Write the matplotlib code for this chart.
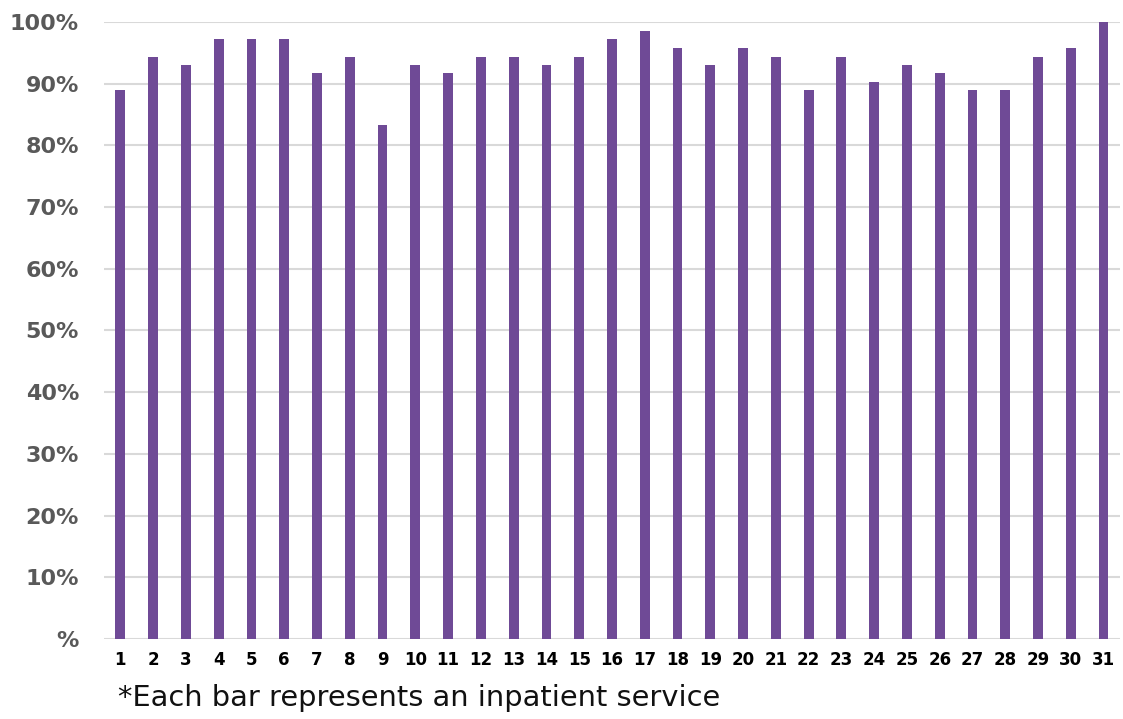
import numpy as np
import matplotlib.pyplot as plt

# share of patients per inpatient service (%)
services = list(range(1, 32))
values = [88.9, 94.4, 93.1, 97.2, 97.2, 97.2, 91.7, 94.4, 83.3, 93.1,
          91.7, 94.4, 94.4, 93.1, 94.4, 97.2, 98.6, 95.8, 93.1, 95.8,
          94.4, 88.9, 94.4, 90.3, 93.1, 91.7, 88.9, 88.9, 94.4, 95.8, 100.0]
yticks = list(range(0, 101, 10))
ylabels = ['%'] + ['%d%%' % t for t in yticks[1:]]

fig = plt.figure(figsize=(11.23, 7.19), dpi=100)
ax = fig.add_axes([0.0926, 0.1113, 0.9047, 0.8581])

ax.bar(services, values, width=0.3, color='#6f4a96', zorder=3)

ax.set_xlim(0.5, 31.5)
ax.set_ylim(0, 100)
ax.set_yticks(yticks)
ax.set_yticklabels(ylabels, fontsize=16, fontweight='bold', color='#595959')
ax.set_xticks(services)
ax.set_xticklabels([str(s) for s in services], fontsize=12, fontweight='bold', color='black')
ax.tick_params(axis='both', length=0)
ax.tick_params(axis='y', pad=18)
ax.tick_params(axis='x', pad=9)
ax.grid(axis='y', color='#d9d9d9', linewidth=1.5, zorder=0)
for s in ax.spines.values():
    s.set_visible(False)

fig.text(0.105, 0.029, '*Each bar represents an inpatient service',
         fontsize=20.8, color='#111111', va='center', ha='left')

fig.savefig('out.png', dpi=100)
